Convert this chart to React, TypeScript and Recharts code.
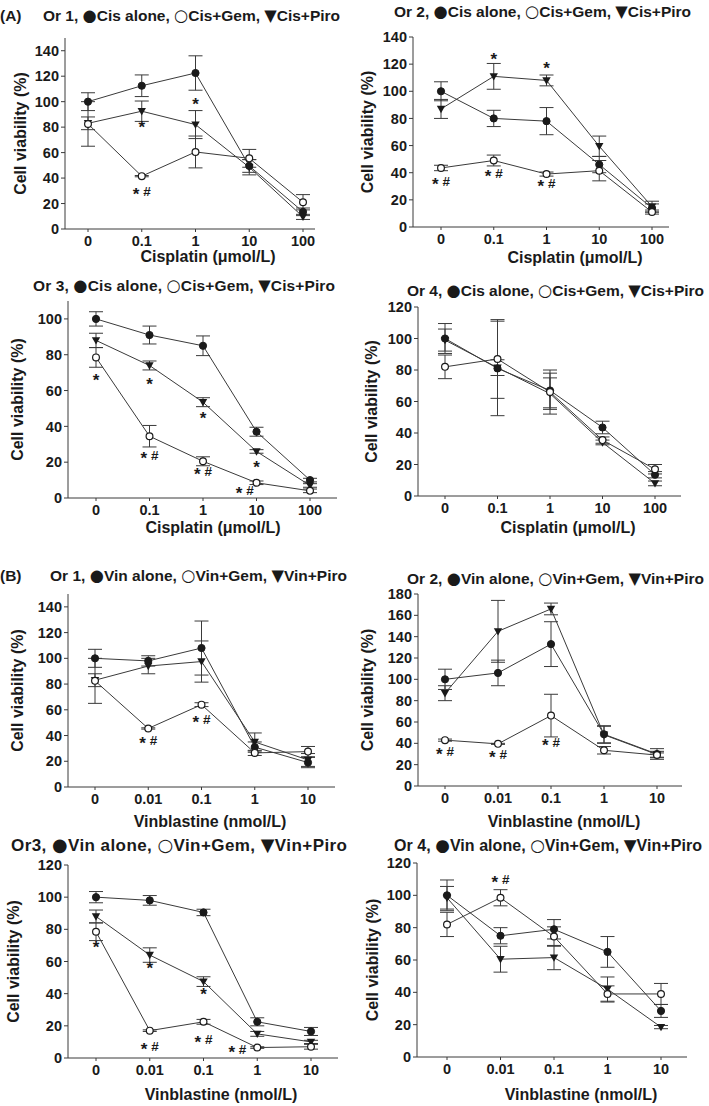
import React from "react";
import { LineChart, Line, XAxis, YAxis, ErrorBar, ReferenceDot } from "recharts";

const FONT = "'Liberation Sans', Arial, Helvetica, sans-serif";
const SYM_FONT = "'DejaVu Sans', 'Liberation Sans', sans-serif";
const INK = "#1a1a1a";
const LINE = "#3a3a3a";

const cisDoses = ["0", "0.1", "1", "10", "100"];
const vinDoses = ["0", "0.01", "0.1", "1", "10"];
const doseIdx = [0, 1, 2, 3, 4];

const ticks100 = [0, 20, 40, 60, 80, 100];
const ticks120 = [0, 20, 40, 60, 80, 100, 120];
const ticks140 = [0, 20, 40, 60, 80, 100, 120, 140];
const ticks180 = [0, 20, 40, 60, 80, 100, 120, 140, 160, 180];

// (A) cisplatin, organoid 1
const cisOr1Alone = [100, 112.5, 122.5, 49.5, 13.5];
const cisOr1AloneSd = [7, 8.5, 13.5, 5, 3];
const cisOr1Gem = [82.5, 41.5, 60.5, 55.5, 21];
const cisOr1GemSd = [17.5, 0.5, 12.5, 7, 6];
const cisOr1Piro = [83, 92.5, 82, 48.5, 9.5];
const cisOr1PiroSd = [5, 8, 11, 6, 2];
const cisOr1Marks = [
  { x: 1, y: 82, text: "*" },
  { x: 2, y: 100, text: "*" },
  { x: 1, y: 29, text: "* #" },
];

// organoid 2
const cisOr2Alone = [100, 80, 78, 46, 14];
const cisOr2AloneSd = [7, 6, 10, 6, 3];
const cisOr2Gem = [43.5, 49, 39, 41.5, 11];
const cisOr2GemSd = [2, 4, 1.5, 7.5, 1.5];
const cisOr2Piro = [87, 111, 108, 59.5, 15];
const cisOr2PiroSd = [7, 9.5, 4, 7.5, 4];
const cisOr2Marks = [
  { x: 1, y: 125, text: "*" },
  { x: 2, y: 119, text: "*" },
  { x: 0, y: 33, text: "* #" },
  { x: 1, y: 39, text: "* #" },
  { x: 2, y: 31.5, text: "* #" },
];

// organoid 3
const cisOr3Alone = [100, 91, 85, 37, 10];
const cisOr3AloneSd = [4, 5, 5.5, 2.5, 1];
const cisOr3Gem = [78.5, 34.5, 20.5, 8.5, 4];
const cisOr3GemSd = [5.5, 6, 2.5, 1, 1];
const cisOr3Piro = [88, 74, 53.5, 26, 7];
const cisOr3PiroSd = [4, 2.5, 2.5, 1, 1];
const cisOr3Marks = [
  { x: 0, y: 67, text: "*" },
  { x: 1, y: 65, text: "*" },
  { x: 2, y: 46, text: "*" },
  { x: 3, y: 18.5, text: "*" },
  { x: 1, y: 23.5, text: "* #" },
  { x: 2, y: 14.5, text: "* #" },
  { x: 2.78, y: 4, text: "* #" },
];

// organoid 4
const cisOr4Alone = [100, 81, 67, 43.5, 13.5];
const cisOr4AloneSd = [9.5, 30, 11, 4, 2];
const cisOr4Gem = [82, 87, 66, 35.5, 17];
const cisOr4GemSd = [7.5, 25, 14, 2, 3];
const cisOr4Piro = [99, 81.5, 65, 34, 8];
const cisOr4PiroSd = [7, 5, 10, 1.5, 1.5];
const cisOr4Marks: { x: number; y: number; text: string }[] = [];

// (B) vinblastine, organoid 1
const vinOr1Alone = [100, 98, 108, 31, 19];
const vinOr1AloneSd = [7, 4, 21, 4, 4];
const vinOr1Gem = [82.5, 45.5, 64, 26.5, 27.5];
const vinOr1GemSd = [17.5, 0.5, 1.5, 2, 4];
const vinOr1Piro = [83, 94, 97.5, 35, 21];
const vinOr1PiroSd = [5, 6, 16, 7, 5];
const vinOr1Marks = [
  { x: 1, y: 36, text: "* #" },
  { x: 2, y: 52, text: "* #" },
];

// organoid 2
const vinOr2Alone = [100, 106, 133, 48.5, 30];
const vinOr2AloneSd = [9.5, 12, 21, 8, 5];
const vinOr2Gem = [43, 39.5, 66, 33.5, 29];
const vinOr2GemSd = [1, 0.5, 20, 3.5, 2];
const vinOr2Piro = [87, 145, 166, 48, 29.5];
const vinOr2PiroSd = [7, 29, 5.5, 8, 3];
const vinOr2Marks = [
  { x: 0, y: 32, text: "* #" },
  { x: 1, y: 29, text: "* #" },
  { x: 2, y: 40, text: "* #" },
];

// organoid 3
const vinOr3Alone = [100, 98, 90.5, 22.5, 16.5];
const vinOr3AloneSd = [3.5, 3, 2, 2.5, 2.5];
const vinOr3Gem = [78.5, 17, 22.5, 6.5, 7];
const vinOr3GemSd = [5.5, 0.5, 1.5, 0.5, 1.5];
const vinOr3Piro = [88, 64, 47.5, 15, 10];
const vinOr3PiroSd = [4, 4.5, 3, 1.5, 1];
const vinOr3Marks = [
  { x: 0, y: 70, text: "*" },
  { x: 1, y: 57, text: "*" },
  { x: 2, y: 41, text: "*" },
  { x: 1, y: 7, text: "* #" },
  { x: 2, y: 11, text: "* #" },
  { x: 2.63, y: 5, text: "* #" },
];

// organoid 4
const vinOr4Alone = [100, 75, 79, 65, 28.5];
const vinOr4AloneSd = [9.5, 5, 6, 9.5, 4];
const vinOr4Gem = [82, 98.5, 74.5, 39, 39];
const vinOr4GemSd = [7.5, 5, 6, 5, 6.5];
const vinOr4Piro = [98.5, 60.5, 61.5, 42, 18.5];
const vinOr4PiroSd = [7, 8, 7.5, 7.5, 1];
const vinOr4Marks = [{ x: 1, y: 109.5, text: "* #" }];

type Mark = { x: number; y: number; text: string };

const panels = [
  {
    id: "a1", or: "Or 1", drug: "Cis", doses: cisDoses, xName: "Cisplatin (\u03bcmol/L)",
    alone: cisOr1Alone, aloneSd: cisOr1AloneSd, gem: cisOr1Gem, gemSd: cisOr1GemSd,
    piro: cisOr1Piro, piroSd: cisOr1PiroSd, marks: cisOr1Marks,
    yMax: 150, yTicks: ticks140,
    x0: 65, x1: 315, t0: 88, t4: 303, yTop: 38, yBot: 229,
    yLabelDx: 45, xLabel: [208, 256], title: [43, 340, 15, 15.5],
  },
  {
    id: "a2", or: "Or 2", drug: "Cis", doses: cisDoses, xName: "Cisplatin (\u03bcmol/L)",
    alone: cisOr2Alone, aloneSd: cisOr2AloneSd, gem: cisOr2Gem, gemSd: cisOr2GemSd,
    piro: cisOr2Piro, piroSd: cisOr2PiroSd, marks: cisOr2Marks,
    yMax: 140, yTicks: ticks140,
    x0: 413, x1: 669, t0: 441, t4: 652, yTop: 37, yBot: 227,
    yLabelDx: 46, xLabel: [575, 257], title: [394, 691, 11, 15.5],
  },
  {
    id: "a3", or: "Or 3", drug: "Cis", doses: cisDoses, xName: "Cisplatin (\u03bcmol/L)",
    alone: cisOr3Alone, aloneSd: cisOr3AloneSd, gem: cisOr3Gem, gemSd: cisOr3GemSd,
    piro: cisOr3Piro, piroSd: cisOr3PiroSd, marks: cisOr3Marks,
    yMax: 110, yTicks: ticks100,
    x0: 68, x1: 337, t0: 96, t4: 310, yTop: 301, yBot: 498,
    yLabelDx: 51, xLabel: [213, 527], title: [33, 335, 285, 15.5],
  },
  {
    id: "a4", or: "Or 4", drug: "Cis", doses: cisDoses, xName: "Cisplatin (\u03bcmol/L)",
    alone: cisOr4Alone, aloneSd: cisOr4AloneSd, gem: cisOr4Gem, gemSd: cisOr4GemSd,
    piro: cisOr4Piro, piroSd: cisOr4PiroSd, marks: cisOr4Marks,
    yMax: 120, yTicks: ticks120,
    x0: 418, x1: 681, t0: 445, t4: 655, yTop: 307, yBot: 496,
    yLabelDx: 47, xLabel: [568, 527], title: [407, 704, 290, 15.5],
  },
  {
    id: "b1", or: "Or 1", drug: "Vin", doses: vinDoses, xName: "Vinblastine (nmol/L)",
    alone: vinOr1Alone, aloneSd: vinOr1AloneSd, gem: vinOr1Gem, gemSd: vinOr1GemSd,
    piro: vinOr1Piro, piroSd: vinOr1PiroSd, marks: vinOr1Marks,
    yMax: 150, yTicks: ticks140,
    x0: 68, x1: 335, t0: 95, t4: 308, yTop: 594, yBot: 787,
    yLabelDx: 51, xLabel: [210, 821], title: [50, 347, 575, 15.5],
  },
  {
    id: "b2", or: "Or 2", drug: "Vin", doses: vinDoses, xName: "Vinblastine (nmol/L)",
    alone: vinOr2Alone, aloneSd: vinOr2AloneSd, gem: vinOr2Gem, gemSd: vinOr2GemSd,
    piro: vinOr2Piro, piroSd: vinOr2PiroSd, marks: vinOr2Marks,
    yMax: 180, yTicks: ticks180,
    x0: 418, x1: 682, t0: 445, t4: 657, yTop: 594, yBot: 786,
    yLabelDx: 51, xLabel: [564, 821], title: [407, 704, 578, 15.5],
  },
  {
    id: "b3", or: "Or3", drug: "Vin", doses: vinDoses, xName: "Vinblastine (nmol/L)",
    alone: vinOr3Alone, aloneSd: vinOr3AloneSd, gem: vinOr3Gem, gemSd: vinOr3GemSd,
    piro: vinOr3Piro, piroSd: vinOr3PiroSd, marks: vinOr3Marks,
    yMax: 120, yTicks: ticks120,
    x0: 68, x1: 338, t0: 96, t4: 311, yTop: 865, yBot: 1058,
    yLabelDx: 55, xLabel: [221, 1094], title: [11, 347, 845, 17],
  },
  {
    id: "b4", or: "Or 4", drug: "Vin", doses: vinDoses, xName: "Vinblastine (nmol/L)",
    alone: vinOr4Alone, aloneSd: vinOr4AloneSd, gem: vinOr4Gem, gemSd: vinOr4GemSd,
    piro: vinOr4Piro, piroSd: vinOr4PiroSd, marks: vinOr4Marks,
    yMax: 120, yTicks: ticks120,
    x0: 417, x1: 687, t0: 447, t4: 661, yTop: 863, yBot: 1057,
    yLabelDx: 45, xLabel: [581, 1094], title: [394, 702, 845, 16],
  },
];

type PanelDef = (typeof panels)[number];

// room around the plot area inside each chart's svg
const ML = 64;
const MT = 11;
const MR = 8;
const XH = 60;

const FilledDot = (p: any) =>
  p.cx == null ? null : <circle key={p.key} cx={p.cx} cy={p.cy} r={3.6} fill={INK} stroke={INK} />;
const OpenDot = (p: any) =>
  p.cx == null ? null : (
    <circle key={p.key} cx={p.cx} cy={p.cy} r={3.4} fill="#fff" stroke={INK} strokeWidth={1.2} />
  );
const TriDot = (p: any) =>
  p.cx == null ? null : (
    <path
      key={p.key}
      d={`M${p.cx - 4.2},${p.cy - 3.2} L${p.cx + 4.2},${p.cy - 3.2} L${p.cx},${p.cy + 4.2} Z`}
      fill={INK}
    />
  );

function MarkText(props: any, text: string) {
  const { cx, cy } = props;
  if (cx == null) return <g />;
  const star = text[0];
  const rest = text.slice(1);
  return (
    <text
      x={cx}
      y={cy + 4}
      textAnchor="middle"
      fontFamily={FONT}
      fontWeight="bold"
      fontSize={13.5}
      fill={INK}
    >
      <tspan fontSize={17} dy={4}>
        {star}
      </tspan>
      {rest ? <tspan dy={-4}>{rest}</tspan> : null}
    </text>
  );
}

function Panel({ p }: { p: PanelDef }) {
  const step = (p.t4 - p.t0) / 4;
  const domain = [-(p.t0 - p.x0) / step, 4 + (p.x1 - p.t4) / step];
  const left = p.x0 - ML;
  const top = p.yTop - MT;
  const width = ML + (p.x1 - p.x0) + MR;
  const height = MT + (p.yBot - p.yTop) + XH;

  const rows = p.doses.map((d, i) => ({
    i,
    dose: d,
    alone: p.alone[i],
    aloneSd: p.aloneSd[i],
    gem: p.gem[i],
    gemSd: p.gemSd[i],
    piro: p.piro[i],
    piroSd: p.piroSd[i],
  }));

  const yLabel = () => {
    const cx = p.x0 - p.yLabelDx - left;
    const cy = (p.yTop + p.yBot) / 2 - top;
    return (
      <text
        x={cx}
        y={cy}
        transform={`rotate(-90 ${cx} ${cy})`}
        textAnchor="middle"
        dominantBaseline="central"
        fontFamily={FONT}
        fontWeight="bold"
        fontSize={16}
        fill={INK}
      >
        Cell viability (%)
      </text>
    );
  };

  const xLabel = () => {
    const cx = p.xLabel[0] - left;
    const cy = p.xLabel[1] - top;
    return (
      <text
        x={cx}
        y={cy}
        textAnchor="middle"
        dominantBaseline="central"
        fontFamily={FONT}
        fontWeight="bold"
        fontSize={16}
        fill={INK}
      >
        {p.xName}
      </text>
    );
  };

  const err = { width: 7, stroke: LINE, strokeWidth: 1, direction: "y" as const };
  const tickStyle = { fontSize: 14.5, fontWeight: "bold", fill: INK, fontFamily: FONT };

  return (
    <div style={{ position: "absolute", left, top, width, height }}>
      <LineChart
        width={width}
        height={height}
        data={rows}
        margin={{ top: MT, right: MR, bottom: 0, left: 0 }}
      >
        <XAxis
          dataKey="i"
          type="number"
          domain={domain}
          ticks={doseIdx}
          interval={0}
          tickFormatter={(v: number) => p.doses[v]}
          allowDataOverflow
          height={XH}
          axisLine={{ stroke: LINE }}
          tickLine={{ stroke: LINE }}
          tickSize={3}
          tickMargin={4}
          tick={tickStyle}
          label={{ content: xLabel }}
        />
        <YAxis
          type="number"
          domain={[0, p.yMax]}
          ticks={p.yTicks}
          interval={0}
          allowDataOverflow
          width={ML}
          axisLine={{ stroke: LINE }}
          tickLine={{ stroke: LINE }}
          tickSize={4}
          tickMargin={2}
          tick={tickStyle}
          label={{ content: yLabel }}
        />
        <Line
          dataKey="alone"
          stroke={LINE}
          strokeWidth={1}
          dot={FilledDot}
          activeDot={false}
          isAnimationActive={false}
        >
          <ErrorBar dataKey="aloneSd" {...err} />
        </Line>
        <Line
          dataKey="piro"
          stroke={LINE}
          strokeWidth={1}
          dot={TriDot}
          activeDot={false}
          isAnimationActive={false}
        >
          <ErrorBar dataKey="piroSd" {...err} />
        </Line>
        <Line
          dataKey="gem"
          stroke={LINE}
          strokeWidth={1}
          dot={OpenDot}
          activeDot={false}
          isAnimationActive={false}
        >
          <ErrorBar dataKey="gemSd" {...err} />
        </Line>
        {(p.marks as Mark[]).map((m, k) => (
          <ReferenceDot
            key={k}
            x={m.x}
            y={m.y}
            r={0}
            ifOverflow="visible"
            shape={(props: any) => MarkText(props, m.text)}
          />
        ))}
      </LineChart>
    </div>
  );
}

function Title({ p }: { p: PanelDef }) {
  const [a, b, cy, size] = p.title;
  const sym = size * 1.05;
  const s = { fontSize: sym, fontFamily: SYM_FONT };
  return (
    <text
      x={(a + b) / 2}
      y={cy + size * 0.36}
      textAnchor="middle"
      textLength={b - a}
      lengthAdjust="spacing"
      fontFamily={FONT}
      fontWeight="bold"
      fontSize={size}
      fill={INK}
    >
      {p.or},{" "}
      <tspan {...s}>{"\u25cf"}</tspan>
      {p.drug} alone,{" "}
      <tspan {...s}>{"\u25cb"}</tspan>
      {p.drug}+Gem,{" "}
      <tspan {...s}>{"\u25bc"}</tspan>
      {p.drug}+Piro
    </text>
  );
}

export default function App() {
  return (
    <div
      style={{
        position: "absolute",
        left: 0,
        top: 0,
        width: 709,
        height: 1106,
        background: "#fff",
        overflow: "hidden",
      }}
    >
      <svg
        width={709}
        height={1106}
        style={{ position: "absolute", left: 0, top: 0 }}
      >
        <text x={0} y={20.5} fontFamily={FONT} fontWeight="bold" fontSize={15.5} fill={INK}>
          (A)
        </text>
        <text x={0} y={580.5} fontFamily={FONT} fontWeight="bold" fontSize={15.5} fill={INK}>
          (B)
        </text>
        {panels.map((p) => (
          <Title key={p.id} p={p} />
        ))}
      </svg>
      {panels.map((p) => (
        <Panel key={p.id} p={p} />
      ))}
    </div>
  );
}
